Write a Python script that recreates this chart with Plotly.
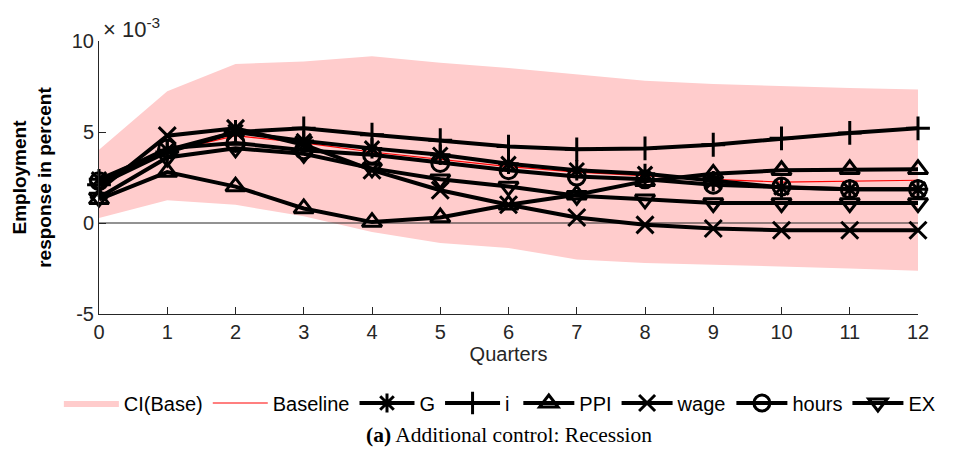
import plotly.graph_objects as go

QUARTERS = list(range(13))

CI_UPPER = [4.03, 7.24, 8.74, 8.88, 9.16, 8.80, 8.52, 8.15, 7.82, 7.64, 7.51, 7.42, 7.33]
CI_LOWER = [0.27, 1.25, 1.00, 0.37, -0.50, -1.10, -1.37, -2.00, -2.20, -2.29, -2.38, -2.50, -2.62]

BASELINE = [2.20, 3.90, 4.80, 4.40, 3.90, 3.50, 3.10, 2.80, 2.60, 2.40, 2.25, 2.30, 2.35]
G = [2.40, 4.00, 5.00, 4.50, 4.10, 3.75, 3.25, 2.90, 2.70, 2.30, 1.95, 1.85, 1.85]
I_RATE = [2.10, 3.90, 5.00, 5.20, 4.85, 4.55, 4.20, 4.05, 4.10, 4.30, 4.65, 4.95, 5.20]
PPI = [1.30, 2.80, 2.00, 0.80, 0.05, 0.30, 1.00, 1.55, 2.30, 2.70, 2.90, 2.95, 2.95]
WAGE = [1.80, 4.80, 5.20, 4.30, 2.90, 1.80, 1.00, 0.30, -0.10, -0.30, -0.40, -0.40, -0.40]
HOURS = [2.30, 4.10, 4.40, 4.00, 3.75, 3.30, 2.90, 2.55, 2.40, 2.10, 2.00, 1.85, 1.85]
EX = [1.40, 3.60, 4.10, 3.80, 3.00, 2.40, 2.00, 1.50, 1.30, 1.10, 1.10, 1.10, 1.10]

# (name, values, marker symbol, legend: first half / second half of the legend row)
SERIES = [
    ("G", G, "asterisk-open", "legend"),
    ("i", I_RATE, "cross-thin-open", "legend"),
    ("PPI", PPI, "triangle-up-open", "legend2"),
    ("wage", WAGE, "x-thin-open", "legend2"),
    ("hours", HOURS, "circle-open", "legend2"),
    ("EX", EX, "triangle-down-open", "legend2"),
]

AXIS_COLOR = "#262626"
FONT = "Liberation Sans, Arial, sans-serif"

fig = go.Figure()

# confidence band as one closed polygon
fig.add_trace(
    go.Scatter(
        x=QUARTERS + QUARTERS[::-1],
        y=CI_UPPER + CI_LOWER[::-1],
        fill="toself",
        fillcolor="#ffcccc",
        line=dict(width=0, color="#ffcccc"),
        mode="lines",
        name="CI(Base)",
        hoverinfo="skip",
        legend="legend",
    )
)

# zero reference line, drawn above the band
fig.add_trace(
    go.Scatter(
        x=QUARTERS,
        y=[0] * len(QUARTERS),
        mode="lines",
        line=dict(color=AXIS_COLOR, width=1),
        showlegend=False,
        hoverinfo="skip",
    )
)

fig.add_trace(
    go.Scatter(
        x=QUARTERS,
        y=BASELINE,
        mode="lines",
        line=dict(color="red", width=1.2),
        name="Baseline",
        cliponaxis=False,
        legend="legend",
    )
)

for name, values, symbol, legend_id in SERIES:
    fig.add_trace(
        go.Scatter(
            x=QUARTERS,
            y=values,
            mode="lines+markers",
            name=name,
            line=dict(color="black", width=4),
            marker=dict(
                symbol=symbol,
                size=17,
                color="black",
                line=dict(color="black", width=3),
            ),
            cliponaxis=False,
            legend=legend_id,
        )
    )

legend_style = dict(
    orientation="h",
    xanchor="left",
    y=-0.326,
    yanchor="middle",
    font=dict(size=20, color="black"),
    bgcolor="rgba(0,0,0,0)",
    tracegroupgap=0,
)

fig.update_layout(
    width=947,
    height=447,
    plot_bgcolor="white",
    paper_bgcolor="white",
    margin=dict(l=91, r=37, t=33, b=141, autoexpand=False),
    font=dict(family=FONT, size=20, color=AXIS_COLOR),
    xaxis=dict(
        range=[0, 12],
        tickvals=QUARTERS,
        ticks="inside",
        ticklen=7,
        tickcolor=AXIS_COLOR,
        showline=True,
        linecolor=AXIS_COLOR,
        linewidth=1,
        showgrid=False,
        zeroline=False,
        automargin=False,
        title=dict(text="Quarters", font=dict(size=20), standoff=3),
        tickfont=dict(size=20),
    ),
    yaxis=dict(
        range=[-5, 10],
        tickvals=[-5, 0, 5, 10],
        ticktext=["-5", "0", "5", "10"],
        ticks="inside",
        ticklen=7,
        tickcolor=AXIS_COLOR,
        showline=True,
        linecolor=AXIS_COLOR,
        linewidth=1,
        showgrid=False,
        zeroline=False,
        automargin=False,
        title=dict(
            text="<b>Employment<br>response in percent</b>",
            font=dict(size=19, color="black"),
            standoff=15,
        ),
        tickfont=dict(size=20),
    ),
    legend=dict(legend_style, x=-0.049, itemwidth=55),
    legend2=dict(legend_style, x=0.512, itemwidth=51),
    showlegend=True,
)

fig.add_annotation(
    text="\u00d7 10<sup>-3</sup>",
    xref="paper",
    yref="paper",
    x=0.0,
    y=1.0,
    xanchor="left",
    yanchor="bottom",
    xshift=2,
    yshift=-3,
    showarrow=False,
    font=dict(family=FONT, size=22, color=AXIS_COLOR),
)

fig.add_annotation(
    text="<b>(a)</b> Additional control: Recession",
    xref="paper",
    yref="paper",
    x=0.5,
    y=-0.443,
    xanchor="center",
    yanchor="middle",
    showarrow=False,
    font=dict(family="Liberation Serif, serif", size=21.5, color="black"),
)

fig.write_html("out.html")
